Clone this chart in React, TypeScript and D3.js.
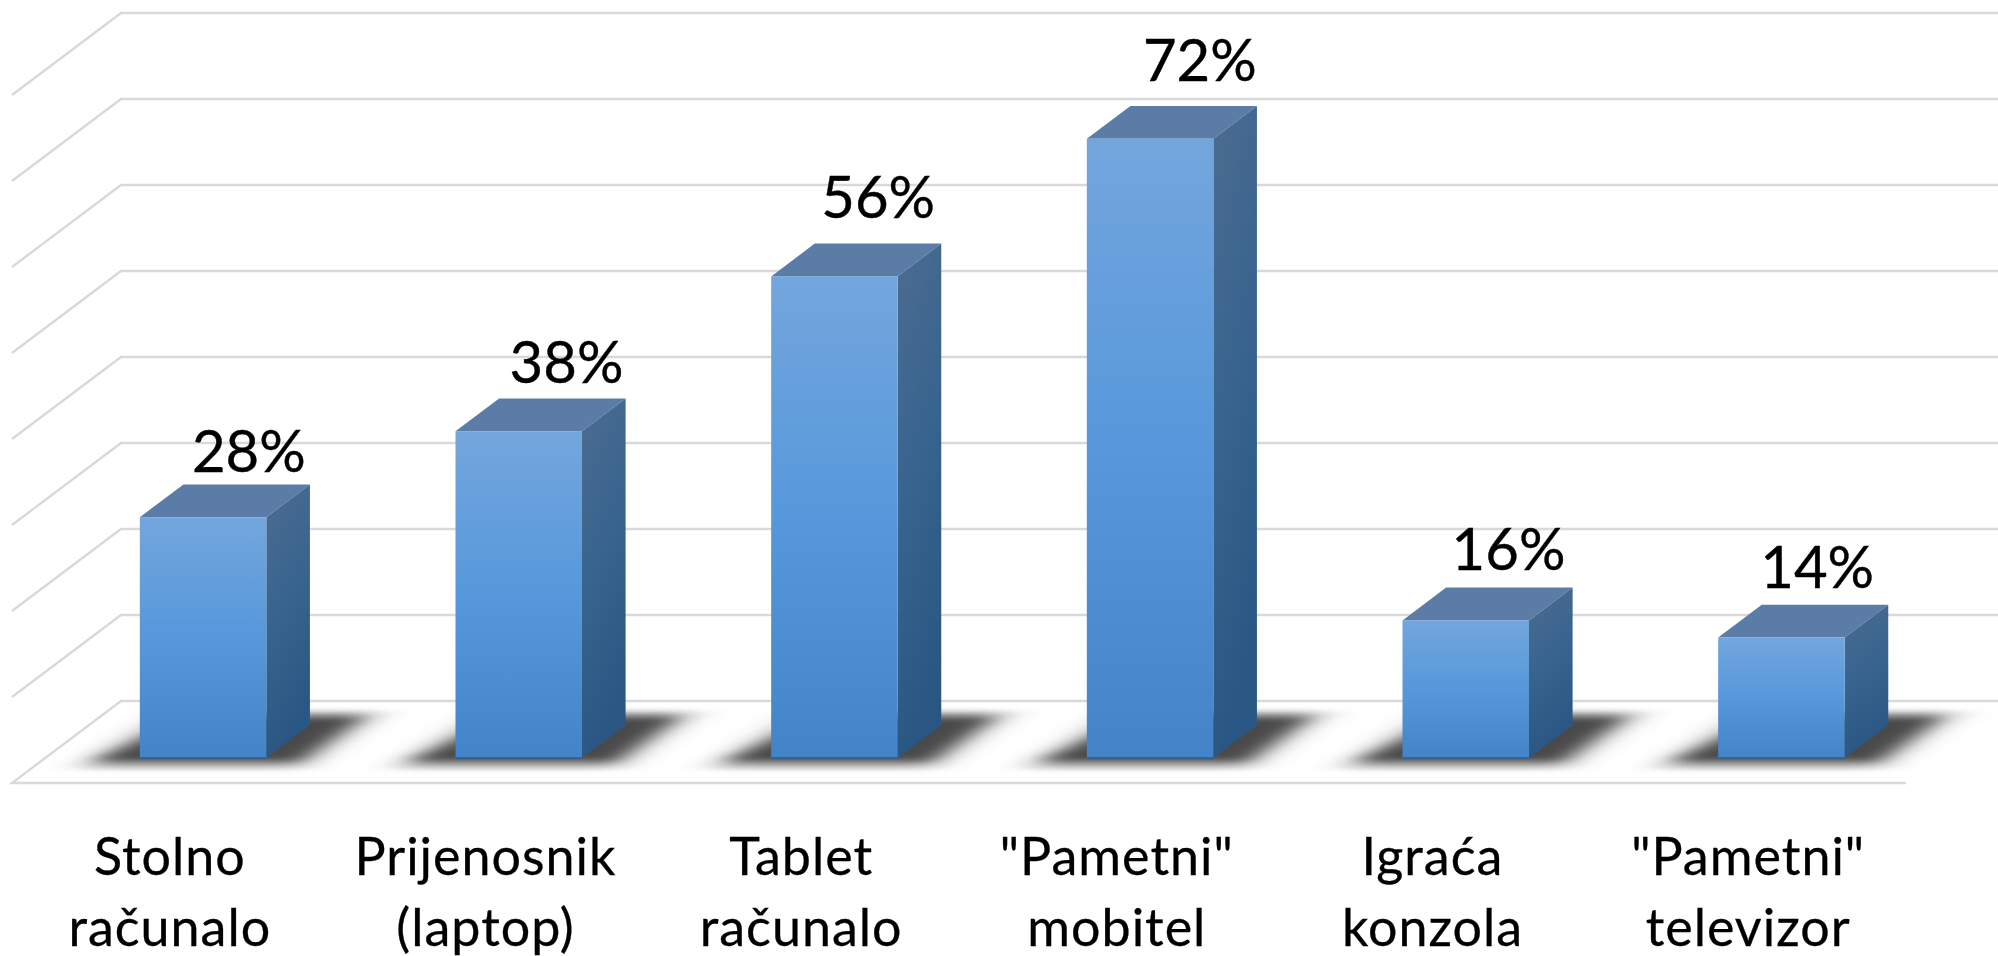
import React from "react";
import * as d3 from "d3";

const categories = ["Stolno|računalo", "Prijenosnik|(laptop)", "Tablet|računalo", '"Pametni"|mobitel', "Igraća|konzola", '"Pametni"|televizor'];
const values = [28, 38, 56, 72, 16, 14];
const gridTicks = [0, 10, 20, 30, 40, 50, 60, 70, 80];
const labelDx = [79, 81, 77, 83, 76, 69];
const labelDy = [12, 15, 26, 25, 18, 17];

const W = 1998, H = 956;
const FRONT_Y = 783, FLOOR_L = 12, FLOOR_R = 1906;
const DEPTH_X = 109, DEPTH_Y = 82;

const xBand = d3.scaleBand<number>().domain(categories.map((_, i) => i)).range([FLOOR_L, FLOOR_R]);
const yScale = d3.scaleLinear().domain([0, 80]).range([0, 688]);
const project = (x: number, v: number, z: number): [number, number] => [x + z * DEPTH_X, FRONT_Y - yScale(v) - z * DEPTH_Y];

const Z_FRONT = 0.305, Z_BACK = 0.705;
const BAR_W = 126.5;
const poly = (pts: [number, number][]) => pts.map((p) => p.join(",")).join(" ");
const FONT = "Lato, Carlito, sans-serif";

export default function App() {
  return (
    <svg width={W} height={H} viewBox={`0 0 ${W} ${H}`} style={{ position: "absolute", left: 0, top: 0, background: "#fff", display: "block" }}>
      <defs>
        <linearGradient id="front" x1="0" y1="0" x2="0" y2="1">
          <stop offset="0" stopColor="#73A6DD" />
          <stop offset="0.5" stopColor="#5698DB" />
          <stop offset="1" stopColor="#4384C8" />
        </linearGradient>
        <linearGradient id="side" x1="0" y1="0" x2="0.25" y2="1">
          <stop offset="0" stopColor="#4D6C8F" />
          <stop offset="0.5" stopColor="#38648F" />
          <stop offset="1" stopColor="#2A5683" />
        </linearGradient>
        <filter id="shBlur" x="-30%" y="-60%" width="160%" height="220%">
          <feGaussianBlur stdDeviation="13 3.5" />
        </filter>
        <filter id="shBlurWide" x="-30%" y="-60%" width="160%" height="220%">
          <feGaussianBlur stdDeviation="18 2.5" />
        </filter>
      </defs>

      {gridTicks.map((t) => {
        const a = project(FLOOR_L, t, 0);
        const b = project(FLOOR_L, t, 1);
        const c = project(FLOOR_R + 200, t, 1);
        return (
          <polyline key={t} points={poly(t === 0 ? [project(FLOOR_R, t, 0), a, b, c] : [a, b, c])} fill="none" stroke="#D9D9D9" strokeWidth={2.4} />
        );
      })}

      {values.map((v, i) => {
        const x0 = (xBand(i) as number) + (xBand.bandwidth() - BAR_W) / 2;
        const x1 = x0 + BAR_W;
        const fb = project(x0, 0, Z_FRONT);
        const fr = project(x1, 0, Z_FRONT);
        const ft = project(x0, v, Z_FRONT);
        const frt = project(x1, v, Z_FRONT);
        const bt = project(x0, v, Z_BACK);
        const brt = project(x1, v, Z_BACK);
        const brb = project(x1, 0, Z_BACK);
        return (
          <g key={i}>
            <polygon filter="url(#shBlurWide)" fill="#C4C4C4"
              points={poly([[fb[0] - 62, fb[1] + 11], [fr[0] + 35, fr[1] + 11], [brb[0] + 72, brb[1] - 14], [brb[0] - 140, brb[1] - 14]])} />
            <polygon filter="url(#shBlur)" fill="#484848"
              points={poly([[fb[0] - 48, fb[1] + 4], [fr[0] + 32, fr[1] + 4], [brb[0] + 54, brb[1] - 9], [brb[0] - 120, brb[1] - 9]])} />
            <polygon points={poly([ft, frt, brt, bt])} fill="#5A7CA6" />
            <polygon points={poly([fr, frt, brt, brb])} fill="url(#side)" />
            <rect x={ft[0]} y={ft[1]} width={BAR_W} height={fb[1] - ft[1]} fill="url(#front)" />
            <line x1={fb[0]} y1={fb[1]} x2={fr[0]} y2={fr[1]} stroke="#2B5F93" strokeWidth={1.5} />
            <text x={(x0 + x1) / 2 + labelDx[i]} y={bt[1] - labelDy[i]} textAnchor="middle" fontFamily={FONT} fontSize={58} stroke="#000" strokeWidth={0.4} fill="#000">{v}%</text>
          </g>
        );
      })}

      {categories.map((c, i) => {
        const cx = (xBand(i) as number) + xBand.bandwidth() / 2;
        return c.split("|").map((line, j) => (
          <text key={`${i}-${j}`} x={cx} y={875 + j * 71} textAnchor="middle" fontFamily={FONT} fontSize={52} letterSpacing={1} stroke="#000" strokeWidth={0.3} fill="#000">{line}</text>
        ));
      })}
    </svg>
  );
}
